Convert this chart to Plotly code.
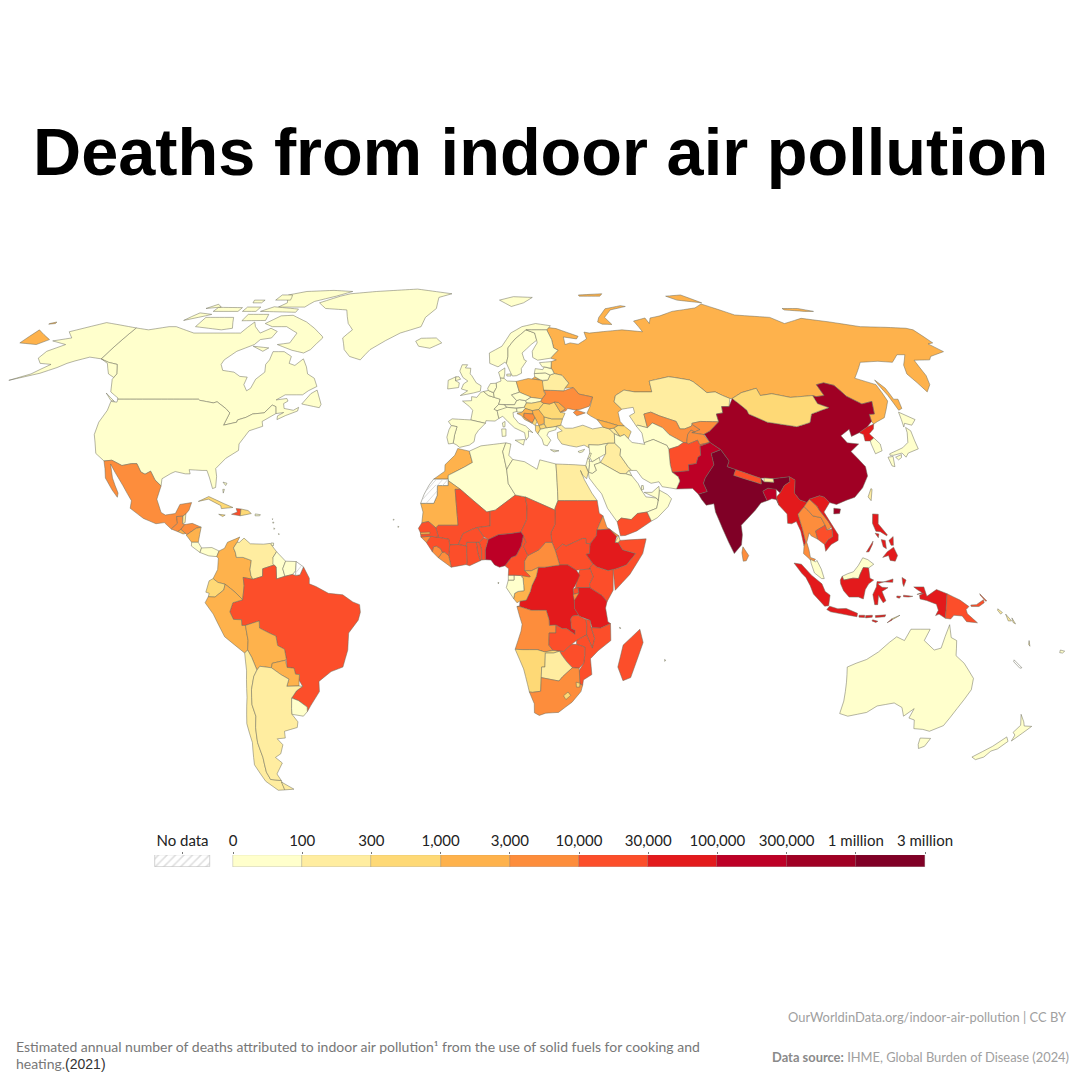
import numpy as np
import plotly.graph_objects as go

# legend bins and colours
bin_edges = [0, 100, 300, 1000, 3000, 10000, 30000, 100000, 300000, 1000000, 3000000]
bin_labels = ["0", "100", "300", "1,000", "3,000", "10,000", "30,000", "100,000", "300,000", "1 million", "3 million"]
bin_colors = ["#ffffcc", "#ffeda0", "#fed976", "#feb24c", "#fd8d3c", "#fc4e2a", "#e31a1c", "#bd0026", "#a00024", "#800026"]

# deaths per country
america_names = ["CAN", "USA", "GRL", "MEX", "GTM", "BLZ", "HND", "SLV", "NIC", "CRI", "PAN", "CUB", "HTI", "DOM", "JAM", "PRI", "BHS", "TTO", "GLP", "MTQ", "BRB", "ATG"]
america_deaths = [60, 80, 5, 6000, 6000, 200, 5000, 1500, 2000, 60, 80, 600, 20000, 800, 500, 20, 10, 10, 5, 5, 5, 5]
south_names = ["COL", "VEN", "GUY", "SUR", "BRA", "ECU", "PER", "BOL", "PRY", "CHL", "ARG", "URY"]
south_deaths = [2000, 250, 80, 50, 15000, 800, 2500, 2000, 1500, 250, 280, 50]
europe_names = ["ISL", "GBR", "IRL", "FRA", "ESP", "PRT", "BEL", "NLD", "DEU", "DNK", "CHE", "AUT", "ITA", "POL", "CZE", "SVK", "HUN", "SVN", "HRV", "BIH", "SRB", "MNE", "MKD", "ALB", "GRC", "BGR", "ROU", "MDA", "UKR", "BLR", "LTU", "LVA", "EST", "NOR", "SWE", "FIN", "RUS", "CYP"]
europe_deaths = [2, 40, 20, 40, 30, 40, 10, 5, 70, 5, 5, 30, 80, 2500, 90, 90, 500, 20, 1200, 3500, 2800, 400, 500, 600, 60, 700, 800, 1500, 6000, 250, 80, 60, 30, 5, 5, 10, 2500, 5]
asia_names = ["KAZ", "UZB", "TKM", "KGZ", "TJK", "AFG", "PAK", "CHN", "MNG", "IND", "NPL", "BTN", "BGD", "LKA", "PRK", "KOR", "JPN", "TWN", "MMR", "THA", "LAO", "VNM", "KHM", "MYS", "IDN", "TLS", "PHL", "PNG"]
asia_deaths = [250, 4000, 60, 3000, 5000, 20000, 130000, 500000, 700, 1200000, 15000, 200, 120000, 3000, 30000, 50, 90, 200, 50000, 8000, 5000, 35000, 12000, 70, 90000, 900, 60000, 12000]
mideast_names = ["TUR", "GEO", "ARM", "AZE", "SYR", "LBN", "ISR", "JOR", "IRQ", "KWT", "SAU", "YEM", "OMN", "ARE", "QAT", "IRN"]
mideast_deaths = [250, 1200, 150, 500, 80, 20, 5, 20, 200, 5, 40, 15000, 10, 5, 5, 90]
africa_names = ["MAR", "DZA", "MRT", "MLI", "NER", "TUN", "LBY", "EGY", "SDN", "SSD", "ERI", "DJI", "ETH", "SOM", "KEN", "UGA", "RWA", "BDI", "TZA", "COD", "COG", "GAB", "GNQ", "CMR", "CAF", "TCD", "NGA", "BEN", "TGO", "GHA", "BFA", "CIV", "LBR", "SLE", "GIN", "GNB", "SEN", "GMB", "AGO", "ZMB", "MWI", "MOZ", "ZWE", "NAM", "BWA", "ZAF", "LSO", "SWZ", "MDG", "CPV", "STP", "COM", "MUS"]
africa_deaths = [2000, 80, 1500, 20000, 25000, 40, 20, 250, 25000, 15000, 3500, 150, 60000, 25000, 28000, 28000, 11000, 8000, 40000, 90000, 2500, 90, 80, 18000, 6000, 18000, 130000, 11000, 10000, 20000, 20000, 25000, 6000, 6000, 15000, 4000, 10000, 1500, 9000, 12000, 11000, 25000, 12000, 500, 250, 5000, 600, 400, 22000, 20, 20, 90, 5]
oceania_names = ["AUS", "NZL", "FJI", "SLB", "VUT"]
oceania_deaths = [30, 5, 50, 250, 120]
no_data_names = ["ESH", "GUF", "NCL"]

# country outlines, flat lon,lat lists, one list per island
outlines = {
    "CAN": [[-141,69.6,-135,69,-128,70,-125,70,-115,68,-108,68,-102,68,-96,68,-94,71.5,-92,70,-88,68,-85,69.5,-81.5,68.5,-82,66.5,-86,66,-87,64.5,-92,62.5,-94.5,60,-94.5,58.7,-92.5,57,-88,56.5,-85,55.3,-82.2,55.1,-82,53,-80,51.3,-79,52,-78.8,54.5,-76.8,56.5,-78,58.7,-77.5,60,-78,62.4,-73.7,62.4,-70,61,-69.5,59,-67,58.4,-65,60.3,-62.5,58,-61,56,-58,54.8,-56,52.5,-58.5,51.3,-60,50.2,-66,50.2,-68.5,48.8,-65,49.2,-64.3,48.5,-65.5,47.8,-64.8,46.5,-61.5,46,-60,46.8,-60,45.8,-63.5,44.6,-66,43.5,-66.2,44.5,-64.5,45.4,-67,45.1,-67.8,47,-69.2,47.4,-71,45.3,-74.7,45,-76.5,44.1,-79,43.4,-79,42.8,-83,42,-82.5,45.3,-84.5,46.5,-88.4,48.3,-89.5,48,-94.6,48.7,-95.2,49,-123,49,-123,49.3,-127,51,-130,54.5,-130,56,-133,58.7,-137,59.3,-141,60.3],
            [-61.5,66.5,-64,63,-66,62,-71,62.8,-78,64.5,-73.5,65,-73,68,-79,70,-85,70,-89,71,-85,73.5,-80,73.7,-72,71.5,-67,69.5,-62,67],
            [-117,70,-105,69,-101,69.5,-105,73,-117,73], [-125,72,-118,73.5,-116,74,-122,74.5],
            [-90,76.5,-78,76.5,-76,78.5,-68,80.5,-62,82.5,-72,83,-85,82.5,-92,81,-88,78],
            [-96,75,-80,74.7,-80,75.8,-92,76.6], [-100,71.9,-90,72,-91,74,-100,74], [-117,75,-106,75,-106,76.3,-117,76.4],
            [-95,79,-88,79,-90,81,-95,81], [-59.3,47.7,-53,46.7,-52.7,47.6,-55.5,51.5,-57.3,50.5], [-87,64,-80.5,63.5,-82,62.5],
            [-128.3,50.7,-123.5,48.4,-125,48.7], [-122,76,-116,76.5,-119,77.5], [-104,75,-98,75,-98,76.5,-104,76.5], [-104,78,-100,78,-100,79,-105,79]],
    "USA": [[-122.8,49,-95.2,49,-94.6,48.7,-89.5,48,-88.4,48.3,-84.5,46.5,-82.5,45.3,-83,42,-79,42.8,-79,43.4,-76.5,44.1,-74.7,45,-71,45.3,-69.2,47.4,-67.8,47,-67,45.1,-70.7,43,-70,41.7,-74,40.5,-76,37,-75.6,35.3,-79,33.2,-81.4,30.5,-80.6,28.4,-80.3,25.5,-81.2,25.2,-82.7,28,-84,30,-85.5,30,-89.6,30.2,-89,29.1,-90.5,29.1,-93.8,29.7,-95,29.2,-97.4,27.8,-97.2,25.9,-99.5,27.5,-101.5,29.8,-103,29,-104.5,29.6,-106.5,31.8,-108.2,31.8,-111,31.3,-114.7,32.7,-117.1,32.5,-120.6,34.5,-122.4,37.5,-123.8,39.5,-124.5,42.8,-124,46,-124.7,48.4,-122.5,48.2],
            [-141,69.6,-149,70.5,-156.5,71.3,-166.5,68.4,-162,66.5,-168,65.6,-161,64.5,-165,62.5,-165,60.5,-162,59,-157.5,58.7,-161,56,-166.5,54.2,-158,56.2,-154,57.8,-152,59,-150,59.7,-146,60.8,-141,60.3,-137,59,-133,56,-130,55,-130,56,-133,58.7,-137,59.3,-141,60.3]],
    "GRL": [[-73,78,-68,76,-58,75.5,-54,71,-51,69,-53.5,66.5,-51,63,-48,61,-43.5,60,-41,63,-36,65.7,-31,68,-23,70,-22,73,-18,76,-18,80,-12,81.5,-30,83.6,-50,82.5,-62,81.5,-66,80.5]],
    "MEX": [[-117.1,32.5,-114.7,32.7,-111,31.3,-108.2,31.8,-106.5,31.8,-104.5,29.6,-103,29,-101.5,29.8,-99.5,27.5,-97.2,25.9,-97.8,22.4,-95.9,18.9,-94.5,18.2,-91.5,18.6,-90.5,21,-87,21.5,-87.5,19.5,-88.3,18.5,-89.1,17.9,-91,17.8,-90.5,16,-92.2,14.5,-94.5,16.2,-97,15.9,-101,17.3,-105.5,20,-105.5,22,-109,26,-112.5,29.5,-114.7,31.7,-112.8,28,-110,24,-110,22.9,-112,24.8,-115,28,-116,30.5]],
    "GTM": [[-92.2,14.5,-90.5,16,-91,17.8,-89.1,17.9,-88.9,15.9,-88.2,15.7,-89.3,14.4,-90.1,13.8]],
    "BLZ": [[-89.1,17.9,-88.3,18.5,-88.2,16.2,-88.9,15.9]],
    "HND": [[-88.2,15.7,-86,16,-83.2,15,-84.7,14.7,-87.3,13,-87.7,13.3,-89.3,14.4]],
    "SLV": [[-90.1,13.8,-89.3,14.4,-87.7,13.3,-88.5,13.2]],
    "NIC": [[-87.3,13,-84.7,14.7,-83.2,15,-83.7,11,-85.7,11,-87.5,12.9]],
    "CRI": [[-85.7,11,-83.7,11,-82.6,9.5,-83,8.3,-85.7,10]],
    "PAN": [[-82.6,9.5,-79.5,9.6,-77.3,8.7,-77.9,7.2,-80.3,7.4,-83,8.3]],
    "CUB": [[-85,21.8,-82,23.1,-77,21.2,-74.2,20.2,-77.7,19.9,-78,20.7,-82,22.4]],
    "HTI": [[-74.4,18.4,-71.7,18,-71.7,19.8,-73.2,19.9,-72.7,19]],
    "DOM": [[-71.7,18,-71.7,19.8,-69.5,19.4,-68.4,18.6,-70,18.3]],
    "JAM": [[-78.3,18.4,-76.3,18.2,-77,17.8]],
    "PRI": [[-67.2,18.5,-65.6,18.3,-65.8,18,-67.2,18]],
    "BHS": [[-78.3,26.9,-77,26.6,-77.3,26],[-78,25,-77.5,25,-77.7,24]],
    "TTO": [[-61.8,10.1,-61,10.1,-61,10.8,-61.8,10.8]],
    "GLP": [[-61.7,16.3,-61.3,16.3,-61.5,16]],
    "MTQ": [[-61.2,14.8,-60.9,14.6,-61.1,14.4]],
    "BRB": [[-59.7,13.3,-59.4,13.2,-59.6,13]],
    "ATG": [[-61.9,17.2,-61.7,17.2,-61.8,17]],
    "COL": [[-71.3,12.4,-72,11,-73,9.5,-72.4,8.4,-72,7,-70,7,-67.5,6.2,-67.8,3.8,-67.5,2.2,-66.9,1.2,-69.8,1.7,-69.5,-0.5,-70,-4.2,-72,-2.4,-73.6,-1.2,-75.2,-0.1,-77.4,0.4,-78.8,1.4,-77.5,3.8,-77.4,6.8,-77.9,7.2,-77.3,8.7,-75.7,9.4,-74.9,11,-72.5,11.9]],
    "VEN": [[-72,11,-71.3,11,-70,12.1,-68,10.6,-64,10.5,-62,10.7,-60,8.5,-61,7,-60.6,5,-64,4,-64,2,-66.9,1.2,-67.5,2.2,-67.8,3.8,-67.5,6.2,-70,7,-72,7,-72.4,8.4,-73,9.5]],
    "GUY": [[-60,8.5,-57.2,6,-58,4,-57.3,2,-59.8,1.3,-60,4.5,-61,5.2,-61,7]],
    "SUR": [[-57.2,6,-54,5.9,-54.1,3.5,-55,2.5,-57.3,2,-58,4]],
    "BRA": [[-51.8,4.5,-50,1.5,-50,0,-48,-0.7,-44.3,-2.5,-40,-2.9,-37,-4.8,-35,-5.5,-34.8,-7.5,-35.5,-9.6,-38.5,-13,-39,-17.5,-40.8,-22,-44.5,-23.2,-48.5,-25.8,-48.7,-28.5,-52,-32.2,-53.4,-33.8,-53.2,-32.6,-55.6,-30.9,-57.6,-30.2,-55.8,-28.3,-53.7,-27.1,-54.6,-25.5,-54.3,-24,-55.5,-23.9,-55.8,-22.3,-57.9,-22.1,-57.9,-19.8,-58.2,-17.3,-60.2,-16.3,-60.5,-13.8,-62.5,-13,-65.3,-11.7,-65.3,-9.8,-69.5,-11,-70.6,-11,-70.6,-9.5,-73,-9.4,-74,-7.4,-73,-5,-70,-4.2,-69.5,-0.5,-69.8,1.7,-66.9,1.2,-64,2,-64,4,-60.6,5,-60,4.5,-59.8,1.3,-57.3,2,-55,2.5,-54.1,2.2,-52.8,2.4]],
    "ECU": [[-78.8,1.4,-77.4,0.4,-75.2,-0.1,-75.6,-1.6,-78.3,-3.5,-80.3,-3.4,-80,-2.5,-81,-2.2,-80,0.8]],
    "PER": [[-80.3,-3.4,-78.3,-3.5,-75.6,-1.6,-75.2,-0.1,-73.6,-1.2,-72,-2.4,-70,-4.2,-73,-5,-74,-7.4,-73,-9.4,-70.6,-9.5,-70.6,-11,-69.5,-11,-69,-15,-69.4,-17.5,-70.4,-18.3,-76,-14,-79,-8,-81.3,-5]],
    "BOL": [[-69.5,-11,-65.3,-9.8,-65.3,-11.7,-62.5,-13,-60.5,-13.8,-60.2,-16.3,-58.2,-17.3,-57.9,-19.8,-58.2,-20.2,-62.3,-21,-62.7,-22.2,-66.2,-21.8,-67.2,-22.8,-68.4,-19.4,-69.4,-17.5,-69,-15]],
    "PRY": [[-57.9,-22.1,-55.8,-22.3,-55.5,-23.9,-54.3,-24,-54.6,-25.5,-54.8,-27,-58.6,-27.1,-57.7,-25.2,-60,-24,-62.7,-22.2,-62.3,-21,-58.2,-20.2]],
    "CHL": [[-69.4,-17.5,-68.4,-19.4,-67.2,-22.8,-68.4,-24.5,-69.7,-28,-70.4,-32,-70,-35,-71,-38,-71.8,-42,-71.7,-46,-72.4,-50,-72,-52,-68.4,-52.3,-68.6,-54.9,-71,-55,-74,-52.5,-75.5,-48,-73.5,-42,-73.5,-37,-71.5,-30,-70.4,-23,-70.4,-18.3]],
    "ARG": [[-66.2,-21.8,-62.7,-22.2,-60,-24,-57.7,-25.2,-58.6,-27.1,-54.8,-27,-53.7,-27.1,-55.8,-28.3,-57.6,-30.2,-58.2,-33,-58.4,-34.5,-57,-36.5,-57.6,-38,-62,-39,-62.3,-40.8,-65,-41,-63.7,-42.6,-65.3,-45,-67.5,-46,-65.8,-47.5,-69,-50.5,-68.4,-52.3,-72,-52,-72.4,-50,-71.7,-46,-71.8,-42,-71,-38,-70,-35,-70.4,-32,-69.7,-28,-68.4,-24.5,-67.2,-22.8],
            [-68.6,-52.7,-65.2,-54.7,-68.6,-54.9]],
    "URY": [[-57.6,-30.2,-55.6,-30.9,-53.2,-32.6,-53.4,-33.8,-54.9,-35,-58.4,-34.5,-58.2,-33]],
    "RUS": [[30,69.7,33,69.4,41,67,40,66.2,35,66.8,34.8,64.5,37,65,40,64.6,44,66.2,44,68.3,46,68,54,68.6,60,69,68,68.4,67,71.8,72.8,72.8,73,71,75,72.8,80,73.5,87,75,99,76.2,104,77.6,113,73.8,127,73,130,71,140,72.7,150,71.5,160,70,170,69.8,178,69.5,179.9,69,179.9,65,177.5,64.7,179.3,62.4,172,61,170,60,164,59.9,163,58,162,55.5,160,53,156.7,51,155.7,56,158,58.5,163,61.5,160,61.5,155,59.3,150,59.6,143,59.3,135.5,54.8,141,53,140.5,48.5,135.5,44,132.5,43,130.7,42.3,130.5,43,131.2,44.9,133,45,135,48.4,131,47.7,127.5,49.8,126,52.8,123,53.5,120,53,120,50,117,49.7,116,50,113,49.8,108,49.5,102.3,50.5,98,50,98,52,92,50.8,87.8,49.2,87,49.2,85,50,83,51,80,50.8,77,53.8,76,54.3,71,55,69,55.2,61.5,54,61,51,55,51,51.5,51.5,48,50,47,48.3,49,46.3,47.5,45.5,47.5,43,48.5,41.8,46.5,41.9,43.5,42.7,40,43.5,38,44.5,37,45.2,38.5,47,40,49.6,35.5,50.4,34,52.2,31,52,32.7,53.4,30.9,55.6,28.2,56.1,27.7,57.4,27.4,57.6,28,59.5,30,60,28,60.5,31.5,62.8,30,63.5,30,66,29,69],
            [-179.9,69,-175,67.5,-170,66,-172.5,64.5,-179.9,65], [19.9,54.5,22.7,54.4,21,55.2],
            [51.5,71.5,53,70.8,57,70.7,55.5,73,60,75.5,68,76.7,66,77,58,75.9,53,73], [95,79,105,78,100,81,92,80.5],
            [138,75.5,146,75,150,75,145,76,138,76], [142,54.3,143.2,52,143,49,144.5,49,143.5,46.5,142,46,142,50,141.8,53],
            [50,80.5,60,80.5,62,81.5,50,81], [-179.9,71,-178,71.5,-177.5,71,-179.9,70.8]],
    "ISL": [[-24,65.5,-22,66.4,-16,66.5,-13.6,65,-18,63.4,-22.5,64]],
    "IRL": [[-10,51.8,-6.2,52.2,-6,53.5,-7.4,54.1,-7.3,55.2,-10,54.2]],
    "GBR": [[-5.5,50,-1,50.7,1.4,51.2,1.7,52.7,0,53.5,-1.6,55.5,-2.2,56,-2,57.6,-4,57.7,-3.2,58.6,-5.2,58.6,-6,56.8,-4.8,55,-3,54,-4.5,53.2,-5.2,51.8,-3,51.3], [-7.4,54.1,-5.6,54.5,-6.2,55.2,-7.3,55.2]],
    "FRA": [[-1.8,43.4,3,42.5,3.2,43.2,6.2,43.1,7.5,43.8,7,45.9,6,46.3,7.6,47.6,8.2,49,6.2,49.5,4.2,50,2.5,51.1,1.6,50.9,0.2,49.5,-1.6,49.7,-1.6,48.6,-4.7,48.5,-2.3,47,-1.2,46], [8.6,42.6,9.5,43,9.4,41.6,8.8,41.5]],
    "ESP": [[-9.2,43,-8,43.7,-1.8,43.4,3,42.5,0.7,40.6,-0.3,39.4,-0.7,37.6,-2.2,36.7,-5.3,36.1,-6.4,36.8,-7.4,37.2,-7,39.5,-6.3,41.6,-8.2,41.9]],
    "PRT": [[-8.2,41.9,-6.3,41.6,-7,39.5,-7.4,37.2,-8.9,37,-9.5,38.8,-8.9,40.8]],
    "BEL": [[2.5,51.1,4.2,51.4,6,50.7,6.2,49.5,4.2,50]],
    "NLD": [[4.2,51.4,6,50.8,7.1,52.2,7.1,53.4,5,53.3,4,52]],
    "DEU": [[6,50.7,7.1,52.2,7.1,53.5,8.8,54,8.6,54.9,9.9,54.8,11,54,14.2,53.9,14.7,52,15,50.9,12.2,50.2,13.8,48.6,13,47.5,7.6,47.6,8.2,49,6.2,49.5]],
    "DNK": [[8.6,54.9,8.1,56.5,10.5,57.7,10.3,56,9.9,54.8], [11,55.4,12.5,55.4,12.5,56,11,55.9]],
    "CHE": [[6,46.3,7,45.9,10.4,46.5,9.6,47.5,7.6,47.6]],
    "AUT": [[9.6,47.5,10.4,46.8,13,46.6,16.2,46.8,17.1,48,16.9,48.6,14.8,48.9,13.8,48.6,13,47.5]],
    "ITA": [[7,45.9,7.5,43.8,8.8,44.4,10.5,42.9,12.5,41.3,15.7,40,16,38,16.9,38.9,17,40.5,18.4,40,16.2,41.8,14,42.5,12.4,44.2,12.3,45.4,13.7,45.7,13.6,46.5,10.4,46.8], [12.5,38,15.6,38.2,15.1,36.7], [8.3,41,9.7,41,9.6,39.1,8.4,39]],
    "POL": [[14.2,53.9,18.6,54.7,23.5,54.2,24,52.5,23.5,51,24,50.4,22.6,49.1,19,49.4,15,50.9,14.7,52]],
    "CZE": [[12.2,50.2,15,50.9,18.8,49.6,16.9,48.6,14.8,48.9,13.8,48.6]],
    "SVK": [[16.9,48.6,18.8,49.5,22.6,49.1,22,48.4,18.8,47.9,17.1,48]],
    "HUN": [[16.2,46.8,17.1,48,18.8,47.9,22,48.4,22.9,47.9,21,46.2,18.8,45.9,16.5,46.5]],
    "SVN": [[13.6,46.5,16.2,46.8,16.5,46.5,15.4,45.5,13.7,45.5]],
    "HRV": [[13.6,45.1,15.4,45.5,16.5,46.5,18.8,45.9,19,45,16,45.2,15.8,44.2,18.4,42.5,16,43.5,15,44.6]],
    "BIH": [[16,45.2,19,45,19.5,44,18.5,42.6,15.8,44.2]],
    "SRB": [[18.8,45.9,21,46.2,22.6,44.5,22.4,42.5,20.6,41.9,20,43,19.5,44,19,45]],
    "MNE": [[18.5,42.6,19.5,44,20,43,19.4,41.9,18.4,42.5]],
    "MKD": [[20.6,41.9,22.4,42.3,23,41.3,20.9,40.9]],
    "ALB": [[19.4,41.9,20.6,41.9,20.9,40.9,20,39.7,19.3,40.5]],
    "GRC": [[20,39.7,20.9,40.9,23,41.3,26.3,41.7,26,40.8,23.5,40.2,22.9,39.3,24,38,22.7,36.5,21.6,36.8,21.2,38.3], [23.6,35.5,26.3,35.2,24.7,34.9]],
    "BGR": [[22.4,42.3,22.6,44.2,25,43.7,28.6,43.7,27.7,42,26.3,41.7,23,41.3]],
    "ROU": [[22.9,47.9,24.9,47.7,26.6,48.2,28.2,45.5,29.7,45.2,28.6,43.7,25,43.7,22.6,44.2,21,46.2]],
    "UKR": [[24,50.4,23.6,51.5,30.5,51.3,34,52.2,35.5,50.4,40,49.6,38.3,47.1,35.2,46.3,33.6,46.1,36.5,45.3,33.5,44.5,32.5,45.4,33.6,46,30.8,46.5,30,45.8,28.2,45.5,30,46.4,28,48.1,26.6,48.2,24.9,47.7,22.9,47.9,22,48.4,22.6,49.1]],
    "MDA": [[26.6,48.2,28,48.1,30,46.4,28.2,45.5]],
    "BLR": [[23.5,51.5,23.5,54,25.5,54.3,26.6,55.7,28.2,56.1,30.9,55.6,32.7,53.4,31,52,30.5,51.3]],
    "LTU": [[21,55.2,21,56.1,25,56.3,26.6,55.7,25.5,54.3,23.5,54.2,22.7,54.4]],
    "LVA": [[21,56.1,21.6,57.5,24.3,57.2,25,58,27.7,57.4,28.2,56.1,26.6,55.7,25,56.3]],
    "EST": [[23.5,59.2,28,59.5,27.4,57.6,25,58,24.3,58]],
    "NOR": [[5,59,5,62,10,64,14,68,19,70,25,71,31,70.3,29,69,25,69,20.5,69,15.5,66.2,12.3,63.5,12,61,11.2,59,10.6,59.3,8,58], [11,79,16,76.7,22,78,27,80,18,80.3]],
    "SWE": [[11.2,59,12,61,12.3,63.5,15.5,66.2,20.5,69,23.8,68,24,65.8,21.5,64.5,17.5,62,18,60,18.8,59.7,16.5,57.5,16.4,56.2,14.5,55.5,13,55.4,12.5,56.3]],
    "FIN": [[20.5,69,25,69,29,69,30,66,30,63.5,31.5,62.8,28,60.5,23,59.9,21.3,60.7,21.5,62.5,24,65,24,65.8,23.8,68]],
    "CYP": [[32.3,35,34.5,35.6,33.8,34.9,32.8,34.7]],
    "KAZ": [[51.5,51.5,55,51,61,51,61.5,54,69,55.2,71,55,76,54.3,77,53.8,80,50.8,83,51,85,50,87,49.2,85.5,47,83,47,82.5,45.3,80.2,45,80,42.9,74,43,71,42.5,70.5,41.7,68,41,66.5,41,66,43,61,44.5,58.5,45.5,56,45,56,41.3,53,42,52.5,41.7,51,44.5,53,45.3,53,46.8,49,46.3,47,48.3,48,50]],
    "UZB": [[56,41.3,56,45,58.5,45.5,61,44.5,66,43,66.5,41,68,41,70.5,41.7,71,42.2,73,40.8,71,40.2,70,40.7,68.5,39.5,67.5,37.3,66.5,37.4,62.5,39.5,61,41.3,58,42.6]],
    "TKM": [[53,42,52.5,41.7,53.8,39.9,53.8,37.3,57,38.2,61,36.6,61.3,35.6,64.5,36.4,66.5,37.4,62.5,39.5,61,41.3,58,42.6,56,41.3]],
    "KGZ": [[71,42.2,71,42.5,74,43,80,42.9,76,40.4,73.7,39.5,70,40,71,40.2,73,40.8]],
    "TJK": [[68.5,39.5,70,40.7,71,40.2,70,40,73.7,39.5,75,37.4,71.5,36.8,71.2,38,68,37,67.5,37.3]],
    "AFG": [[61.3,35.6,64.5,36.4,66.5,37.4,67.5,37.3,68,37,71.2,38,71.5,36.8,75,37.4,71.5,36.4,71,34,70,33.5,69,31.8,66.5,31.5,66.3,29.9,61,29.5,60.8,31.5,61,33.5]],
    "CHN": [[74,39.5,73.7,39.5,76,40.4,80,42.9,80.2,45,82.5,45.3,83,47,85.5,47,87.8,49.2,91,46,91,45,96,42.8,105,41.6,110,42.7,112,45,116,46,119,46.7,116,47.8,116,50,117,49.7,120,50,120,53,123,53.5,126,52.8,127.5,49.8,131,47.7,135,48.4,133,45,131.2,44.9,130.5,43,128,41.5,124.4,40,121.3,39,121.7,40.9,118,39.2,119,37.3,122.5,37,119,35,121.8,31,121.5,28.5,119,25.4,116,22.9,113.5,22.2,110,21,108,21.5,106.7,22.9,105.3,23.3,102,22.4,101.1,21.5,99,22.2,97.7,24,98.7,27.5,97.2,28.3,92,27.8,89.2,28,88.2,27.9,81,30.2,78.5,31,79.5,32.5,77.8,35.5,75,37.4], [108.7,18.5,110.5,18.6,111,19.8,109,20]],
    "MNG": [[87.8,49.2,92,50.8,98,52,98,50,102.3,50.5,108,49.5,113,49.8,116,50,116,47.8,119,46.7,116,46,112,45,110,42.7,105,41.6,96,42.8,91,45,91,46]],
    "PAK": [[61,29.5,66.3,29.9,66.5,31.5,69,31.8,70,33.5,71,34,71.5,36.4,75,37.4,77.8,35.5,74.5,34.5,74.5,31.5,71,28,70.2,26.6,71,24.4,68.2,23.7,66.6,25.2,61.6,25.1,63,27.2,62.7,28.3]],
    "IND": [[74.5,34.5,77.8,35.5,79.5,32.5,78.5,31,81,30.2,80,28.7,88,26.4,88.2,27.9,89,27,92,26.9,92,27.8,97.2,28.3,97,27,95,26,93.3,24,92.4,24.9,91.5,25,89.8,25.3,88.1,24.5,89,22,87,21.4,85,19.5,80.2,15.5,80.3,13,79.8,10.3,77.5,8,76,11,74.5,14.5,72.8,19,72.6,21.2,70.2,20.8,69,22.3,68.2,23.7,71,24.4,70.2,26.6,71,28,74.5,31.5]],
    "NPL": [[80,28.7,81,30.2,88.2,27.9,88,26.4]],
    "BTN": [[89,27,89.2,28,92,27.8,92,26.9]],
    "BGD": [[88.1,24.5,89.8,25.3,92.3,25,92,23,92.4,20.8,91.8,22.3,90.5,22.5,89,22]],
    "LKA": [[79.8,8.2,80.2,9.8,81.8,7.5,81,6.1,80.1,6]],
    "PRK": [[124.4,40,128,41.5,130.7,42.3,129.7,41,127.5,39.7,128.3,38.6,126.7,37.8,125,37.8,125.5,39.5]],
    "KOR": [[126.7,37.8,128.3,38.6,129.4,37,129,35.2,126.5,34.4,126.5,37]],
    "JPN": [[130.9,34,131,34.4,136,36,138.5,37.4,140,40,140.5,41.4,141.5,40.5,141,38,140.8,35.7,137,34.6,135.7,33.5,135,34.6,132,34], [140,41.5,141.5,45.5,145.3,43.5,143,42,141,42.5], [130,33.5,131.7,33.7,131,31,130.2,31.2], [132.4,33.5,134.6,34.2,134.2,33.4,133,32.8]],
    "TWN": [[120.1,23,121.5,25.2,121.8,25,120.8,22]],
    "MMR": [[92.4,20.8,92,23,93.3,24,95,26,97,27,97.2,28.3,98.7,27.5,97.7,24,99,22.2,101.1,21.5,100,20.4,97.8,18.4,98.5,15,99.2,11,98.6,10,98,14,97,16.5,95.5,15.9,94.3,16,94.5,18.5]],
    "THA": [[97.8,18.4,100,20.4,101,19.5,102.2,18,104.7,17.5,105.6,15.5,102.5,14,102.9,11.8,101,12.7,100.5,13.5,99.5,11,100,9,100.3,7,101.8,6.5,100.9,5.6,100,6.6,98.3,8,98.6,10,99.2,11,98.5,15]],
    "LAO": [[101.1,21.5,102,22.4,104,20.5,104.5,19.5,106.7,16.5,107.5,15,105.9,14.2,105.6,15.5,104.7,17.5,102.2,18,101,19.5,100,20.4]],
    "VNM": [[102,22.4,105.3,23.3,106.7,22.9,108,21.5,105.8,19,107,16.8,109.2,13,109,11.5,106.8,10.4,105,8.6,104.8,10.4,106,11.7,107.5,12.5,107.5,15,106.7,16.5,104.5,19.5,104,20.5]],
    "KHM": [[102.5,14,105.6,15.5,105.9,14.2,107.5,14.5,107.5,12.5,106,11.7,104.8,10.4,102.9,11.8]],
    "MYS": [[100.3,6.5,101.8,5.8,102.2,6.2,103.4,3.9,104.2,1.4,103.4,1.4,101.3,2.9,100.4,5.5], [109.6,2,111.3,2.7,113,3.2,114.5,4.8,116,6.9,117.5,6.4,119.2,5.2,117.6,4.2,116,4.3,115,2.6,114.5,1.4,112.8,1.5,110,1]],
    "IDN": [[109,1,109.6,2,110,1,112.8,1.5,114.5,1.4,115,2.6,116,4.3,117.6,4.2,117.9,1.5,119,1,117.5,0,116.5,-1.5,116,-4,114.5,-3.5,111.7,-3.5,110,-1.8,109.1,0],
            [95.3,5.5,97.5,5.2,100.4,2.3,103.5,0,104.5,-2,106,-3,105.7,-5.8,104.5,-5.9,101,-2.7,100,-0.5,98.7,1.7,97.5,2.8],
            [105.2,-6.8,106,-5.9,108.5,-6.6,111,-6.5,114.5,-7.8,114.4,-8.7,110,-8,106.4,-7.4],
            [119.5,-5.5,120.4,-5.5,120.5,-3,122,-5,122.8,-4.5,121.5,-2,123.3,-1,121.5,-0.9,120.2,0,124.8,1.3,124.7,0.4,120,0.6,119.8,-0.8,118.8,-2.8],
            [115,-8.3,116.7,-8.3,116.7,-8.9,115,-8.8], [117,-8.4,119,-8.3,119,-8.8,117,-9], [119.9,-8.4,123,-8.2,122.8,-8.7,120,-8.9],
            [119.2,-9.5,120.8,-9.9,120.2,-10.2,119,-9.8], [123.6,-10.3,125,-9.2,125,-9.6], [127.5,1.7,128.7,1,128,-0.7,127.7,0],
            [128,-3,130.8,-3.3,129.5,-3.5,128,-3.4], [126,-3.2,127.2,-3.3,126.8,-3.8,126,-3.6],
            [131,-0.8,134,-0.8,135,-3.3,137.8,-1.5,141,-2.6,141,-9.1,139,-8,138,-8.4,138.7,-7,138,-5.4,135,-4.4,133,-4,132.8,-3,134,-2.5,132,-2.8,133.5,-2.3,132,-1.5]],
    "TLS": [[125,-9.2,127.3,-8.3,126,-9,125,-9.5]],
    "PHL": [[120.5,18.5,122.2,18.4,121.7,15.9,124,13,123.8,12.7,122,13.8,120.7,13.9,120,16], [117.2,8.4,119.5,11.3,119.2,10.4,118,8.5],
            [122,7,123.5,8.5,125.5,9.7,126.5,7.5,125.7,6,124.2,6.2,123.8,7.5], [124.3,11.5,125.7,12.5,125.5,10.2,124.8,10.2],
            [122,11.7,123.2,11.5,123.3,9.3,122.4,9.8], [120.4,13.4,121.5,13.2,121.2,12.2]],
    "PNG": [[141,-2.6,145,-4.3,147.8,-6,147,-6.8,147.5,-7.9,150.8,-10.3,147.5,-10,146,-8.5,143.5,-8.3,142.6,-9.3,141,-9.1],
            [148.3,-5.6,150,-5.5,152,-4.2,152.3,-5,150.8,-6,148.5,-6], [150.8,-2.6,153,-4.5,152.7,-4.6,151,-3]],
    "TUR": [[26.3,41.7,28,42,29,41.2,31.5,41.2,35,42,38,41,41.5,41.5,43.5,41,44.8,39.7,44.4,37.2,42.3,37.2,39,36.7,36,36.8,36,36,34.5,36.7,32,36.2,30,36.5,27.4,37,26.3,38.5,26.3,40,28,40.5]],
    "GEO": [[40,43.5,43.5,42.7,46.5,41.9,45,41.2,43.5,41,41.5,41.5]],
    "ARM": [[43.5,41,45,41.2,46.5,39,44.8,39.7]],
    "AZE": [[45,41.2,46.5,41.9,48.5,41.8,50.4,40.3,49,38.4,48,39.5,46.5,39]],
    "SYR": [[36,36,36,36.8,39,36.7,42.3,37.2,41.3,36.4,41,34.4,38.8,33.4,36.5,32.3,35.8,33.4,36,34.6]],
    "LBN": [[35.1,33.1,35.8,33.4,36.5,34.5,36,34.6]],
    "ISR": [[34.3,31.3,35.1,33.1,35.7,33,35.5,31.5,35,29.5,34.9,29.5]],
    "JOR": [[35,29.4,36.1,29.2,37.5,30,37,31.5,39,32.1,38.8,33.4,36.5,32.3,35.5,32.5,35.5,31.5]],
    "IRQ": [[39,32.1,41,34.4,41.3,36.4,42.3,37.2,44.4,37.2,46,35.7,45.5,34,47.5,31,48.5,30,47.7,30,46.5,29.1,44.7,29.2]],
    "KWT": [[46.5,29.1,47.7,30,48.3,28.6]],
    "SAU": [[34.9,29.5,36.1,29.2,37.5,30,37,31.5,39,32.1,44.7,29.2,46.5,29.1,48.3,28.6,50,26.5,50.8,24.8,52,23,55.2,22.7,55.7,22,55,20,52,19,49,18.6,47,17,44,17.4,43,16.7,42.7,16.4,40,20,38.5,23.8,37,25.5,35,28]],
    "YEM": [[42.7,16.4,43,16.7,44,17.4,47,17,49,18.6,52,19,53.1,16.6,48.5,14,45,12.8,43.5,12.7]],
    "OMN": [[52,19,55,20,55.7,22,56.3,24.8,58.7,23.6,59.8,22.5,58.5,20.4,55,17.5,53.1,16.6]],
    "ARE": [[51.6,24.2,55.2,22.7,55.7,22,56.3,24.8,56.3,25.8,54,24.2]],
    "QAT": [[50.8,24.8,51.5,25,51.5,26,51,26]],
    "IRN": [[44.8,39.7,46.5,39,48,39.5,49,38.4,50,37.4,54,36.9,53.8,37.3,57,38.2,61,36.6,61.3,35.6,61,33.5,60.8,31.5,61,29.5,62.7,28.3,63,27.2,61.6,25.1,57.3,25.7,56.5,27,54,26.6,51.5,27.9,50,30,48.5,30,47.5,31,45.5,34,46,35.7,44.4,37.2]],
    "MAR": [[-5.9,35.8,-2.2,35.1,-1.2,32.1,-3.7,30.9,-8.7,28.7,-8.7,27.7,-13.2,27.7,-9.8,29.8,-9.8,31.5,-6.8,34]],
    "DZA": [[-2.2,35.1,1.5,36.5,9.5,37.3,8.4,35,9.5,30.2,9.9,26.5,12,23.5,5.8,19.5,3.2,19,-4.9,25,-8.7,27.3,-8.7,28.7,-3.7,30.9,-1.2,32.1]],
    "MRT": [[-17,21.3,-13,21.3,-12,23.4,-12,26,-8.7,26,-8.7,27.3,-4.9,25,-6.5,25,-5.5,15.5,-11.5,15.5,-12.2,14.8,-14.5,16.5,-16.5,16.1,-16.2,19]],
    "MLI": [[-12.2,14.8,-11.5,15.5,-5.5,15.5,-6.5,25,-4.9,25,3.2,19,4.2,19.2,4.2,15.3,0.3,14.9,-1,14.5,-4,13.3,-5.4,10.4,-8,10.3,-8.3,11.8,-11.4,12.3]],
    "NER": [[4.2,19.2,5.8,19.5,12,23.5,15,23,15.5,20.5,15.3,17,13.5,13.7,10.5,13.3,6.7,13,3.6,11.7,2.2,12.5,0.3,14.9,4.2,15.3]],
    "TUN": [[9.5,37.3,11.1,37,10.3,34,11.5,32.9,10,31,9.5,30.2,8.4,35]],
    "LBY": [[9.5,30.2,10,31,11.5,32.9,15.2,32.3,19,30.3,20,32.8,25,31.7,25,22,24,20,24,19.5,15,23,12,23.5,9.9,26.5]],
    "EGY": [[25,31.7,31,31.5,34.2,31.3,34.9,29.5,34.2,27.8,33,28.8,32.5,30,33.5,27.5,35.5,24,37,22,25,22]],
    "SDN": [[24,20,25,22,37,22,37.4,18.7,38.5,18,36.5,14.3,36.2,12.7,34.3,10.6,33,10.7,33,12,32,12,27,10,26,10.5,23.8,8.7,22.8,11,22.5,13.5,23.8,15.7,24,19.5]],
    "SSD": [[23.8,8.7,26,10.5,27,10,32,12,33,12,33,10.7,34.3,10.6,34,8,33,7.8,35,5.3,33.9,3.9,31,3.7,30,3.6,27.5,5,25,5]],
    "ERI": [[36.5,14.3,38.5,18,39.5,15,43,12.7,42.3,12.5,40.3,14.5,37.5,14.3]],
    "ETH": [[36.2,12.7,36.5,14.3,37.5,14.3,40.3,14.5,42.3,12.5,41.8,11,42.8,10.9,44,9,47.9,8,45,5,42,4,39.5,3.5,36,4.5,35,5.3,33,7.8,34,8,34.3,10.6]],
    "DJI": [[41.8,11,43,12.7,43.3,11.5,42.8,10.9]],
    "SOM": [[43.3,11.5,51.2,11.9,50,8,46,2.5,41.6,-1.7,41,3.8,42,4,45,5,47.9,8,44,9,42.8,10.9]],
    "KEN": [[34,4.2,35,5.3,36,4.5,39.5,3.5,41,3.8,41,-1.7,39.2,-4.7,37.7,-3.1,34,-1,33.9,0,35,1.9]],
    "UGA": [[31,3.7,33.9,3.9,34,4.2,35,1.9,33.9,0,34,-1,30.5,-1,29.6,-1.4,30.5,2.4]],
    "COD": [[12.2,-6,13,-5.8,13.1,-4.6,15,-4.3,16.2,-2,16.7,-0.4,18,2,18.6,4.4,20.5,4.4,22.8,4.7,25,5,27.5,5,30,3.6,31,2.3,29.6,-0.5,29,-1.3,29.2,-2.8,29.4,-4.4,29.5,-6.5,30.8,-8.3,28.9,-8.5,28.4,-9.3,28.7,-11.8,29.8,-12.2,29.8,-13.4,27.3,-11.9,25.8,-11.8,24,-10.9,22,-11,21.9,-9.5,21,-7,16.5,-7,13,-6]],
    "RWA": [[29,-1.3,30.5,-1,30.8,-2.4,29.2,-2.8]],
    "BDI": [[29,-2.8,30.8,-2.4,30.4,-4,29.4,-4.4]],
    "TZA": [[30.5,-1,34,-1,37.7,-3.1,39.2,-4.7,38.8,-6.4,39.6,-10,40.4,-10.5,37.5,-11.7,34.9,-11.6,34.2,-9.6,31,-8.6,29.5,-6.5,29.4,-4.4,30.8,-2.4]],
    "COG": [[11.2,-3.9,12.2,-5,13,-4.6,15,-4.3,16.2,-2,16.7,-0.4,18,2,18.6,4.4,16.5,3.5,14.5,3.5,13.3,3.2,14,1.4,14.2,-0.4,14.3,-1.8,12.5,-2,11.5,-2.5]],
    "GAB": [[9.6,1,11.3,1,11.3,2.3,13.3,2.2,14,1.4,14.2,-0.4,14.3,-1.8,12.5,-2,11.5,-2.5,11.2,-3.9,9,-1]],
    "GNQ": [[9.6,2.3,11.3,2.3,11.3,1,9.6,1]],
    "CMR": [[8.6,4.8,10.5,7,12,7.5,13.5,10,14.2,12.8,15,11,14.2,10,15.5,7.5,14.5,6,14.5,3.5,16.2,2,16,1.8,13.3,2.2,11.3,2.3,9.6,2.3,9.7,4]],
    "CAF": [[14.5,6,15.5,7.5,18.8,9,20.9,11,22.8,11,23.8,8.7,25,5,22.8,4.7,20.5,4.4,18.6,4.4,16.5,3.5,14.5,3.5]],
    "TCD": [[15.3,17,15.5,20.5,15,23,24,19.5,23.8,15.7,22.5,13.5,22.8,11,20.9,11,18.8,9,15.5,7.5,14.2,10,15,11,14.2,12.8,13.5,13.7]],
    "NGA": [[2.7,6.4,2.7,9,3.6,11.7,6.7,13,10.5,13.3,13.5,13.7,14.2,12.8,13.5,10,12,7.5,10.5,7,8.6,4.8,7,4.4,5.5,5,4.4,6.3]],
    "BEN": [[1.6,6.3,2.7,6.4,2.7,9,3.6,11.7,2.2,12.2,0.9,11,1.6,9]],
    "TGO": [[1.2,6.1,1.6,6.3,1.6,9,0.9,11,0,11,0.5,8]],
    "GHA": [[-3.1,5.1,-2,4.8,1.2,6.1,0.5,8,0,11,-2.9,11,-2.9,8,-2.8,5.5]],
    "BFA": [[-5.4,10.4,-4,13.3,-1,14.5,0.3,14.9,2.2,12.5,2.2,12.2,0.9,11,-2.9,11,-3,10]],
    "CIV": [[-7.5,4.4,-3.1,5.1,-2.8,5.5,-2.9,8,-2.9,10,-5.4,10.4,-8,10.3,-8.3,7.5]],
    "LBR": [[-11.4,6.9,-7.5,4.4,-8.3,7.5,-9.5,8.4,-10.2,8.4]],
    "SLE": [[-13.2,8.5,-11.4,6.9,-10.2,8.4,-10.7,9.3,-12,10,-12.9,9.8]],
    "GIN": [[-15,10.9,-13.2,8.5,-12.9,9.8,-12,10,-10.7,9.3,-10.2,8.4,-9.5,8.4,-8.3,7.5,-8,10.3,-8.3,11.8,-11.4,12.3,-13.7,12.6]],
    "GNB": [[-16.7,12.4,-13.7,12.6,-15,10.9]],
    "SEN": [[-16.5,16.1,-14.5,16.5,-12.2,14.8,-11.4,12.3,-13.7,12.6,-16.7,12.4,-16.8,13.4,-17.5,14.7]],
    "GMB": [[-16.8,13.6,-14,13.7,-14,13.2,-16.8,13.1]],
    "AGO": [[11.8,-17.3,13.5,-12.5,13.8,-10.7,13,-8.5,12.2,-6,13,-6,16.5,-7,21,-7,21.9,-9.5,22,-11,24,-10.9,24,-13,22,-13,22,-16.2,23.3,-17.6,20.8,-18,18.5,-17.4,13.9,-17.4]],
    "ZMB": [[22,-13,24,-13,24,-10.9,25.8,-11.8,27.3,-11.9,29.8,-13.4,29.8,-12.2,28.7,-11.8,28.4,-9.3,28.9,-8.5,30.8,-8.3,31,-8.6,33,-9.4,33.3,-11,33.3,-13.5,30.3,-15,28.9,-16,26.5,-17.9,25.3,-17.8,23.3,-17.6,22,-16.2]],
    "MWI": [[33,-9.4,34.2,-9.6,34.6,-11.5,35.8,-14.4,35.2,-17,34.4,-15.5,33.3,-13.5,33.3,-11]],
    "MOZ": [[34.9,-11.6,37.5,-11.7,40.4,-10.5,40.7,-15,37,-17.7,34.8,-19.8,35.5,-24,33,-25.4,32.9,-26.8,32,-26.5,31.5,-23,32.8,-21,33,-19,32.9,-16.7,30.4,-16,30.3,-15,33.3,-13.5,34.4,-15.5,35.2,-17,35.8,-14.4,34.6,-11.5]],
    "ZWE": [[25.3,-17.8,26.5,-17.9,28.9,-16,30.4,-16,32.9,-16.7,33,-19,32.8,-21,31.5,-22.3,29.4,-22.2,27.5,-20.5,25.9,-18.7]],
    "NAM": [[11.8,-17.3,13.9,-17.4,18.5,-17.4,20.8,-18,23.3,-17.6,25.3,-17.8,23.5,-18.3,21,-18.3,21,-22,20,-22,20,-28.4,17.5,-28.7,16.5,-28.6,14.5,-22.5]],
    "BWA": [[20,-22,21,-22,21,-18.3,23.5,-18.3,25.3,-17.8,25.9,-18.7,27.5,-20.5,29.4,-22.2,26.5,-24.6,25.5,-25.7,23,-25.3,20,-24.8]],
    "ZAF": [[16.5,-28.6,17.5,-28.7,20,-28.4,20,-24.8,23,-25.3,25.5,-25.7,26.5,-24.6,29.4,-22.2,31.5,-22.3,32,-26.5,32.9,-26.8,32.5,-28.5,30,-31.3,26,-34,22,-34.2,20,-34.8,18.4,-34.1,18.2,-31.7]],
    "LSO": [[27.2,-29.6,28.5,-28.6,29.4,-29.5,28,-30.6]],
    "SWZ": [[30.8,-26,32,-26.3,32,-27.3,31,-27.3]],
    "MDG": [[49.3,-12,50.5,-15.5,47.5,-24.8,45.2,-25.6,43.3,-22,44.5,-16.2]],
    "CPV": [[-25.2,17.1,-24.9,17,-25.1,16.8], [-23.7,15.3,-23.4,15.1,-23.6,14.9]],
    "STP": [[6.5,0.4,6.8,0.3,6.6,0.0]],
    "COM": [[43.2,-11.4,43.5,-11.8,43.3,-11.9]],
    "MUS": [[57.4,-20,57.8,-20.2,57.5,-20.5]],
    "AUS": [[113.5,-22,114.2,-26,115,-31,115.1,-34.3,118,-35,123.5,-34,126,-32.3,131,-31.5,134,-32.7,135.7,-35,138,-33,137.7,-35.5,139.7,-36,141,-38.3,144,-38.5,146.5,-39,150,-37.5,151.5,-33,153.5,-28,153,-25,149,-21,146,-19,145.3,-15,143.5,-14.2,142.5,-10.8,141.6,-14,141,-17,139,-17.5,135.5,-15,136.8,-12,131,-12,129.5,-15,127,-14,125,-15.5,122.2,-18,119,-20,116,-21],
            [144.8,-40.8,148.3,-40.9,148,-43,146.5,-43.6,145.5,-42.5]],
    "NZL": [[172.7,-34.5,175,-36.5,176,-37.6,178.5,-37.7,177,-39.5,175.3,-41.6,175,-40,173.8,-39.3,174.7,-37.4], [172.8,-40.5,174.3,-41.7,172.8,-43.7,171.2,-44.3,170.5,-45.9,168.4,-46.6,166.5,-45.9,170.5,-43]],
    "FJI": [[177.3,-17.5,178.7,-17.8,178.2,-18.3,177.3,-18.2]],
    "SLB": [[156.5,-6.6,158,-7.6,157.5,-8,156.5,-7], [159,-8,161,-9.8,160,-9.8], [161,-9,162.3,-10.6,161.5,-10.2]],
    "VUT": [[167.2,-15,167.8,-16.5,167.3,-16]],
    "ESH": [[-13.2,27.7,-8.7,27.7,-8.7,26,-12,26,-12,23.4,-13,21.3,-17,21.3,-16,23.7,-14.5,26.2]],
    "GUF": [[-54,5.9,-51.8,4.5,-52.8,2.4,-54.1,2.2,-54.1,3.5]],
    "NCL": [[164,-20.1,167,-22.2,166.4,-22.3,164,-20.6]],
}
# hatching of the no data areas, flat lon,lat pairs
hatch_lines = [[-15.3,21.3,-12,24.6], [-16.6,22.2,-12.4,26.2], [-15.4,24.6,-12.3,27.7], [-12,26,-10.3,27.7], [-10.4,26,-8.7,27.7], [-54,3,-52.4,4.8]]

country_deaths = {}
for names, vals in [(america_names, america_deaths), (south_names, south_deaths), (europe_names, europe_deaths),
                    (asia_names, asia_deaths), (mideast_names, mideast_deaths), (africa_names, africa_deaths),
                    (oceania_names, oceania_deaths)]:
    for n, v in zip(names, vals, strict=True):
        country_deaths[n] = v


def ring_lonlat(flat):
    pts = [(flat[i], flat[i + 1]) for i in range(0, len(flat), 2)]
    pts.append(pts[0])
    # long edges would bend along great circles otherwise
    lons, lats = [], []
    for (a, b), (c, d) in zip(pts[:-1], pts[1:]):
        steps = max(1, int(max(abs(c - a), abs(d - b)) // 2))
        for k in range(steps):
            lons.append(a + (c - a) * k / steps)
            lats.append(b + (d - b) * k / steps)
    lons.append(pts[-1][0])
    lats.append(pts[-1][1])
    # d3 wants rings clockwise
    area = sum(lons[i] * lats[i + 1] - lons[i + 1] * lats[i] for i in range(len(lons) - 1))
    if area > 0:
        lons, lats = lons[::-1], lats[::-1]
    return lons, lats


# the page has 8px of body margin, so the figure is 1064 wide and high
def page_x(x):
    return (x - 8) / 1064


def page_y(y):
    return 1 - (y - 8) / 1064


fig = go.Figure()
for name, rings in outlines.items():
    if name in no_data_names:
        color = "#ffffff"
    else:
        color = bin_colors[int(np.searchsorted(bin_edges, country_deaths[name], side="right")) - 1]
    for flat in rings:
        lons, lats = ring_lonlat(flat)
        fig.add_trace(go.Scattergeo(lon=lons, lat=lats, mode="lines", fill="toself", fillcolor=color,
                                    line=dict(color="#6a6a5a", width=0.5), name=name, hoverinfo="name", showlegend=False))
for h in hatch_lines:
    fig.add_trace(go.Scattergeo(lon=h[0::2], lat=h[1::2], mode="lines", line=dict(color="#cccccc", width=0.7),
                                hoverinfo="skip", showlegend=False))

# legend as a small bar chart on its own axes
unit = 692 / len(bin_colors)
nodata_x = (182.5 - 233) / unit
slots = list(range(len(bin_colors)))
fig.add_trace(go.Bar(x=[i + 0.5 for i in slots], y=[1] * len(slots), width=[1] * len(slots),
                     marker=dict(color=bin_colors, line=dict(color="rgba(90,90,90,0.45)", width=0.5)),
                     hoverinfo="skip", showlegend=False, xaxis="x", yaxis="y"))
fig.add_trace(go.Bar(x=[nodata_x], y=[1], width=[55 / unit],
                     marker=dict(color="white", line=dict(color="#b5b5b5", width=0.6),
                                 pattern=dict(shape="/", fgcolor="#bbbbbb", size=6, solidity=0.25)),
                     hoverinfo="skip", showlegend=False, xaxis="x", yaxis="y"))

fig.update_layout(
    width=1064, height=1064, margin=dict(l=0, r=0, t=0, b=0), paper_bgcolor="white", plot_bgcolor="rgba(0,0,0,0)",
    geo=dict(visible=False, projection=dict(type="robinson", scale=1.13, rotation=dict(lon=0)), center=dict(lon=19.2, lat=11.6),
             domain=dict(x=[0, 1], y=[0, 1]), bgcolor="rgba(0,0,0,0)"),
    xaxis=dict(domain=[page_x(150), page_x(975)], range=[(150 - 233) / unit, (975 - 233) / unit], side="top",
               tickmode="array", tickvals=[nodata_x] + list(range(len(bin_labels))), ticktext=["No data"] + bin_labels,
               ticks="outside", ticklen=2, tickwidth=0.7, tickcolor="#777777", showgrid=False, zeroline=False, showline=False,
               tickfont=dict(family="Lato", size=15, color="#222222"), anchor="y"),
    yaxis=dict(domain=[page_y(867), page_y(855)], range=[0, 1], visible=False, fixedrange=True),
    bargap=0,
    annotations=[
        dict(text="<b>Deaths from indoor air pollution</b>", x=page_x(540), y=page_y(152), xref="paper", yref="paper", xanchor="center", yanchor="middle", showarrow=False,
             font=dict(family="Liberation Sans", size=66.7, color="black")),
        dict(text="OurWorldinData.org/indoor-air-pollution | CC BY", x=page_x(1069), y=page_y(1017), xref="paper", yref="paper", xanchor="right", yanchor="middle", showarrow=False,
             font=dict(family="Lato", size=12.9, color="#a0a0a0")),
        dict(text="<b style='color:#8a8a8a'>Data source:</b> IHME, Global Burden of Disease (2024)", x=page_x(1071), y=page_y(1057), xref="paper", yref="paper", xanchor="right", yanchor="middle", showarrow=False,
             font=dict(family="Lato", size=12.9, color="#a0a0a0")),
        dict(text="Estimated annual number of deaths attributed to indoor air pollution¹ from the use of solid fuels for cooking and", x=page_x(14), y=page_y(1046), xref="paper", yref="paper", xanchor="left", yanchor="middle", showarrow=False,
             font=dict(family="Lato", size=14, color="#777777")),
        dict(text="heating.<span style='color:#333333;font-family:Liberation Sans'>(2021)</span>", x=page_x(14), y=page_y(1063), xref="paper", yref="paper", xanchor="left", yanchor="middle", showarrow=False,
             font=dict(family="Lato", size=14, color="#777777")),
    ],
)
fig.write_html("out.html")
